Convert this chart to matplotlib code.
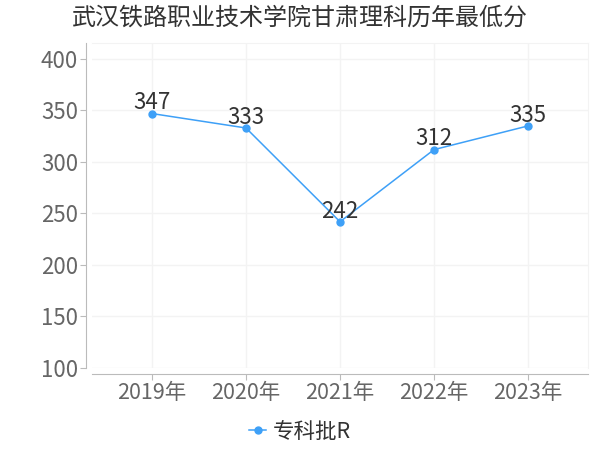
import matplotlib
matplotlib.use("Agg")
import matplotlib.pyplot as plt

plt.rcParams['font.family'] = ['Noto Sans CJK SC', 'DejaVu Sans']

title = "武汉铁路职业技术学院甘肃理科历年最低分"
years = ["2019年", "2020年", "2021年", "2022年", "2023年"]
scores = [347, 333, 242, 312, 335]
series_name = "专科批R"
yticks = [100, 150, 200, 250, 300, 350, 400]

line_color = "#3ea0f7"

fig = plt.figure(figsize=(6, 4.5), dpi=100)
ax = fig.add_axes([92/600, 1-368/450, 496/600, 325/450])

x = list(range(len(years)))
ax.plot(x, scores, color=line_color, lw=1.1, marker='o', ms=5, label=series_name)
for xi, v in zip(x, scores):
    ax.annotate(str(v), (xi, v), xytext=(0, 3), textcoords='offset points',
                ha='center', va='baseline', fontsize=16, color='#333333')

ax.set_xlim(-0.638, len(years) - 1 + 0.638)
ax.set_ylim(100, 415.5)
ax.set_xticks(x)
ax.set_xticklabels(years)
ax.set_yticks(yticks)
ax.tick_params(axis='both', colors='#bbbbbb', labelcolor='#666666', labelsize=16, length=4)
ax.tick_params(axis='x', labelsize=15.5, pad=2)
ax.tick_params(axis='y', pad=2)

ax.grid(True, color='#f3f3f3', lw=1)
ax.set_axisbelow(True)
for s in ['top', 'right']:
    ax.spines[s].set_color('#f3f3f3')
ax.spines['left'].set_position(('outward', 4))
ax.spines['bottom'].set_position(('outward', 4))
ax.spines['left'].set_color('#bbbbbb')
ax.spines['bottom'].set_color('#bbbbbb')

fig.suptitle(title, x=0.5, y=1-18/450, va='center', fontsize=17.3, color='#333333')

fig.legend(loc='center', bbox_to_anchor=(0.5, 1-432/450), frameon=False,
           fontsize=15.5, handlelength=0.8, handletextpad=0.3, labelcolor='#333333')

fig.savefig("out.png", dpi=100)
